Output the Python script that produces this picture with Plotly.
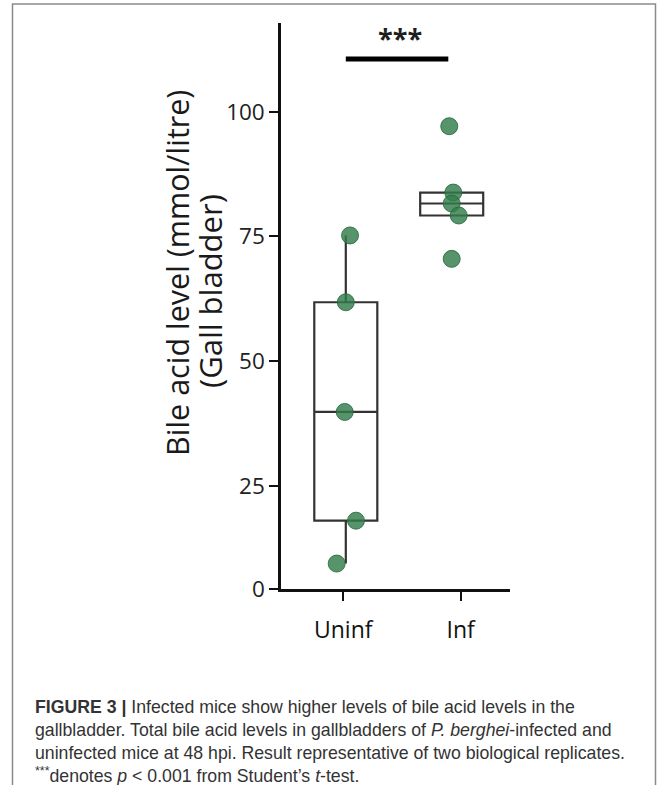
import numpy as np
import plotly.graph_objects as go

# ---------------- data ----------------
CATEGORIES = ["Uninf", "Inf"]
UNINF_VALUES = [75.2, 61.8, 39.8, 18.0, 9.4]
INF_VALUES = [97.1, 83.8, 81.6, 79.2, 70.5]
Y_TICK_VALS = [4.3, 25, 50, 75, 100]
Y_TICK_TEXT = ["0", "25", "50", "75", "100"]
SIGNIF_TEXT = "***"

# ---------------- styling / layout helpers ----------------
UNINF_JITTER = [0.04, 0.0, -0.01, 0.096, -0.086]
INF_JITTER = [-0.023, 0.015, 0.0, 0.066, 0.0]
BOX_POS = [0.0, 1.0]
TICK_POS = [-0.024, 1.085]
BOX_WIDTH = 0.595
W, H = 670, 785
L, R, T, B = 281, 160, 23, 196
PW, PH = W - L - R, H - T - B


def px_x(p):
    return (p - L) / PW


def px_y(p):
    return (H - B - p) / PH


def box_stats(vals):
    v = np.sort(np.asarray(vals, dtype=float))
    n = len(v)
    med = float(np.median(v))
    if n % 2:
        lower, upper = v[: n // 2 + 1], v[n // 2:]
    else:
        lower, upper = v[: n // 2], v[n // 2:]
    q1, q3 = float(np.median(lower)), float(np.median(upper))
    iqr = q3 - q1
    lf = float(v[v >= q1 - 1.5 * iqr].min())
    uf = float(v[v <= q3 + 1.5 * iqr].max())
    return q1, med, q3, min(lf, q1), max(uf, q3)


GREEN = "rgba(50,124,74,0.82)"
BOXLINE = "#333333"

fig = go.Figure()

for pos, vals in zip(BOX_POS, [UNINF_VALUES, INF_VALUES]):
    q1, med, q3, lf, uf = box_stats(vals)
    fig.add_trace(go.Box(
        x=[pos], q1=[q1], median=[med], q3=[q3], lowerfence=[lf], upperfence=[uf],
        width=BOX_WIDTH, whiskerwidth=0, boxpoints=False,
        fillcolor="rgba(255,255,255,0)", line=dict(color=BOXLINE, width=2.2),
        showlegend=False, hoverinfo="skip",
    ))

for pos, vals, jit in zip(BOX_POS, [UNINF_VALUES, INF_VALUES], [UNINF_JITTER, INF_JITTER]):
    fig.add_trace(go.Scatter(
        x=[pos + j for j in jit], y=vals, mode="markers",
        marker=dict(size=17, color=GREEN, line=dict(color="rgba(40,105,60,0.85)", width=1)),
        showlegend=False,
    ))

# significance bar
all_max = max(UNINF_VALUES + INF_VALUES)
bar_y = all_max + 13.5
fig.add_shape(type="line", xref="x", yref="y", x0=BOX_POS[0], x1=BOX_POS[1] - 0.032,
              y0=bar_y, y1=bar_y, line=dict(color="black", width=5))
fig.add_annotation(xref="x", yref="y", x=(BOX_POS[0] + BOX_POS[1]) / 2 + 0.01, y=bar_y + 4.3,
                   text="<b>" + SIGNIF_TEXT + "</b>", showarrow=False,
                   font=dict(family="Open Sans", size=27, color="#1e1e1e"))

# y-axis title lines
fig.add_annotation(xref="paper", yref="paper", x=px_x(177), y=px_y(273),
                   text="Bile acid level (mmol/litre)", textangle=-90, showarrow=False,
                   xanchor="center", yanchor="middle",
                   font=dict(family="Open Sans", size=30.5, color="#1a1a1a"))
fig.add_annotation(xref="paper", yref="paper", x=px_x(210), y=px_y(291),
                   text="(Gall bladder)", textangle=-90, showarrow=False,
                   xanchor="center", yanchor="middle",
                   font=dict(family="Open Sans", size=31, color="#1a1a1a"))

# caption
caption = (
    "<b>FIGURE 3 |</b> Infected mice show higher levels of bile acid levels in the<br>"
    "gallbladder. Total bile acid levels in gallbladders of <i>P. berghei</i>-infected and<br>"
    "uninfected mice at 48 hpi. Result representative of two biological replicates.<br>"
    "<sup>***</sup>denotes <i>p</i> &lt; 0.001 from Student\u2019s <i>t</i>-test."
)
fig.add_annotation(xref="paper", yref="paper", x=px_x(33), y=px_y(695),
                   xanchor="left", yanchor="top", align="left", text=caption,
                   showarrow=False,
                   font=dict(family="Liberation Sans, Arial", size=17.7, color="#333333"))

# frame
fig.add_shape(type="rect", xref="paper", yref="paper",
              x0=px_x(12.5), x1=px_x(655.5), y0=px_y(800), y1=px_y(4),
              line=dict(color="#8a8a8a", width=1.5), fillcolor="rgba(0,0,0,0)", layer="below")

fig.update_xaxes(
    range=[(L - 345.8) / 105.9, (510 - 345.8) / 105.9],
    tickvals=TICK_POS, ticktext=CATEGORIES,
    showline=True, linecolor="#111111", linewidth=2.5,
    ticks="outside", ticklen=9, tickwidth=2, tickcolor="#111111",
    showgrid=False, zeroline=False, ticklabelstandoff=10,
    tickfont=dict(family="Open Sans", size=23, color="#111111"),
)
fig.update_yaxes(
    range=[4.3, 117.8],
    tickvals=Y_TICK_VALS, ticktext=Y_TICK_TEXT,
    showline=True, linecolor="#111111", linewidth=2.5,
    ticks="outside", ticklen=9, tickwidth=2, tickcolor="#111111",
    showgrid=False, zeroline=False,
    tickfont=dict(family="Open Sans", size=22.5, color="#222222"),
)

fig.update_layout(
    width=W, height=H,
    margin=dict(l=L, r=R, t=T, b=B, pad=0),
    paper_bgcolor="white", plot_bgcolor="white",
    showlegend=False,
)

fig.write_html(
    "out.html",
    config={"displayModeBar": False},
    post_script="document.body.style.margin='0';document.body.style.overflow='hidden';",
)
